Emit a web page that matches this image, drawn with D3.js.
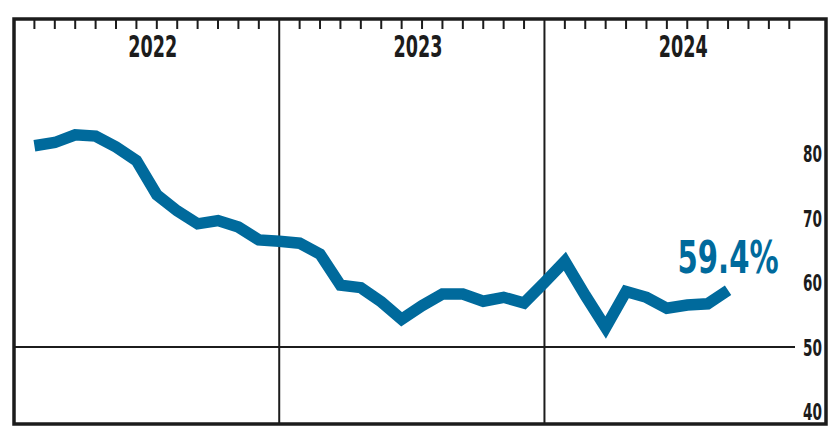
<!DOCTYPE html>
<html>
<head>
<meta charset="utf-8">
<script src="https://cdn.jsdelivr.net/npm/d3@7"></script>
<style>
  body { margin: 0; background: #fff; }
  text { font-family: "Liberation Sans Narrow", "DejaVu Sans Condensed", "Liberation Sans", sans-serif; font-weight: bold; }
</style>
</head>
<body>
<svg id="chart" width="840" height="437"></svg>
<script>
// monthly share, Jan 2022 .. Nov 2024 (slot 13 and 26 are the year dividers)
const years = ["2022", "2023", "2024"];
const values = [81.2, 81.7, 82.9, 82.7, 81.0, 78.9, 73.6, 71.1, 69.1, 69.6, 68.6, 66.6,
                66.4, 66.1, 64.4, 59.6, 59.2, 57.0, 54.3, 56.4, 58.2, 58.2, 57.1, 57.7, 56.8,
                60.0, 63.3, 58.0, 53.0, 58.6, 57.7, 56.0, 56.5, 56.7, 58.8];
const yTicks = [40, 50, 60, 70, 80];
const lastLabel = "59.4%";

const blue = "#006a9c", ink = "#1c1c1c";
const svg = d3.select("#chart");

// each year takes 13 slots: divider + 12 month ticks
const x = d3.scaleLinear().domain([0, 39.8]).range([14, 826]);
const y = d3.scaleLinear().domain([40, 80]).range([411.5, 153.5]);
const frameTop = 19, frameBottom = 424;

// squeeze a text horizontally to a given width (the original face is condensed)
function squeeze(sel, px, py, w) {
  sel.each(function() {
    const natural = this.getComputedTextLength();
    d3.select(this).attr("transform", `translate(${px},${py}) scale(${w / natural},1)`);
  });
}

// month ticks on the top edge
const monthTicks = d3.range(1, 39).filter(i => i % 13 !== 0);
svg.append("g").selectAll("line")
  .data(monthTicks)
  .join("line")
  .attr("x1", d => x(d)).attr("x2", d => x(d))
  .attr("y1", frameTop).attr("y2", frameTop + 10)
  .attr("stroke", ink).attr("stroke-width", 2);

// year dividers
svg.append("g").selectAll("line")
  .data([13, 26])
  .join("line")
  .attr("x1", d => x(d)).attr("x2", d => x(d))
  .attr("y1", frameTop).attr("y2", frameBottom)
  .attr("stroke", ink).attr("stroke-width", 2);

// 50 reference line
svg.append("line")
  .attr("x1", x(0)).attr("x2", 795)
  .attr("y1", y(50)).attr("y2", y(50))
  .attr("stroke", ink).attr("stroke-width", 2);

// year labels
svg.append("g").selectAll("text")
  .data(years)
  .join("text")
  .attr("text-anchor", "middle")
  .attr("font-size", 30)
  .attr("fill", ink)
  .text(d => d)
  .each(function(d, i) { squeeze(d3.select(this), x(6.8 + 13 * i), 57, 49); });

// right axis labels
const yAxis = d3.axisRight(y).tickValues(yTicks).tickSize(0).tickPadding(0);
const gy = svg.append("g").attr("transform", "translate(822,0)").call(yAxis);
gy.select(".domain").remove();
gy.attr("font-family", null).attr("font-size", null);
gy.selectAll(".tick").each(function(d) {
  const t = d3.select(this).select("text")
    .attr("text-anchor", "end")
    .attr("font-size", 23)
    .attr("fill", ink)
    .attr("x", 0)
    .attr("dy", "0.36em");
  squeeze(t, 0, 0, 19);
});

// the line
const line = d3.line()
  .x((d, i) => x(i + 1))
  .y(d => y(d));

svg.append("path")
  .datum(values)
  .attr("d", line)
  .attr("fill", "none")
  .attr("stroke", blue)
  .attr("stroke-width", 11.5)
  .attr("stroke-linejoin", "miter")
  .attr("stroke-miterlimit", 10);

// end value label
svg.append("text")
  .attr("text-anchor", "middle")
  .attr("font-size", 45)
  .attr("fill", blue)
  .text(lastLabel)
  .call(squeeze, x(values.length), 273, 101);

// frame
svg.append("rect")
  .attr("x", x(0)).attr("y", frameTop)
  .attr("width", x(39.8) - x(0)).attr("height", frameBottom - frameTop)
  .attr("fill", "none")
  .attr("stroke", ink).attr("stroke-width", 3.5);
</script>
</body>
</html>
